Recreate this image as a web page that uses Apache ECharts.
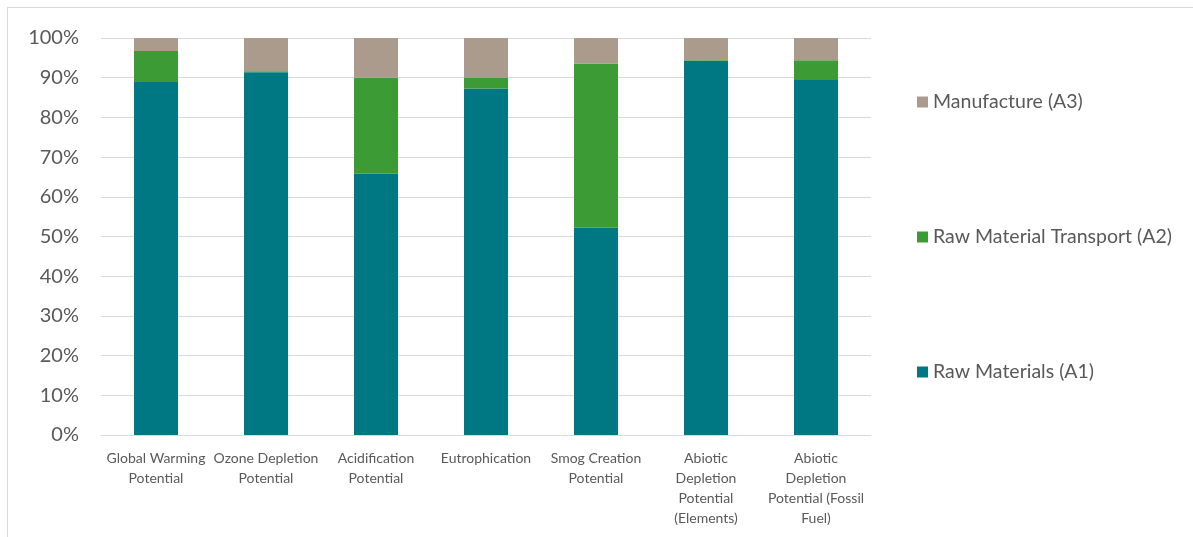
<!DOCTYPE html>
<html>
<head>
<meta charset="utf-8">
<script src="https://cdn.jsdelivr.net/npm/echarts@6/dist/echarts.min.js"></script>
<style>
  html, body { margin: 0; padding: 0; background: #fff; }
  #chart { width: 1193px; height: 537px; }
  .frame { position: absolute; left: 7px; top: 7px; width: 1200px; height: 540px; border: 1px solid #d9d9d9; box-sizing: border-box; pointer-events: none; }
</style>
</head>
<body>
<div id="chart"></div>
<div class="frame"></div>
<script>
// categories and their wrapped tick labels
const categories = ['Global Warming Potential', 'Ozone Depletion Potential', 'Acidification Potential',
  'Eutrophication', 'Smog Creation Potential', 'Abiotic Depletion Potential (Elements)',
  'Abiotic Depletion Potential (Fossil Fuel)'];
const tickLabels = ['Global Warming\nPotential', 'Ozone Depletion\nPotential', 'Acidification\nPotential',
  'Eutrophication', 'Smog Creation\nPotential', 'Abiotic\nDepletion\nPotential\n(Elements)',
  'Abiotic\nDepletion\nPotential (Fossil\nFuel)'];

// shares in percent
const rawMaterials = [88.9, 91.4, 65.8, 87.3, 52.2, 94.2, 89.4];
const transport = [7.8, 0.2, 24.2, 2.6, 41.4, 0.2, 5.0];
const manufacture = [3.3, 8.4, 10.0, 10.1, 6.4, 5.6, 5.6];

const chart = echarts.init(document.getElementById('chart'));

const font = 'Lato, "Open Sans", sans-serif';
const barOpts = { type: 'bar', stack: 'total', barWidth: 44 };

const option = {
  animation: false,
  textStyle: { fontFamily: font },
  grid: { left: 101, right: 322, top: 38, bottom: 102 },
  legend: {
    orient: 'vertical',
    left: 912,
    top: 86,
    icon: 'rect',
    itemWidth: 11,
    itemHeight: 11,
    itemGap: 113,
    itemStyle: { borderWidth: 0 },
    textStyle: { fontSize: 19.5, color: '#595959', lineHeight: 22, fontFamily: font },
    data: ['Manufacture (A3)', 'Raw Material Transport (A2)', 'Raw Materials (A1)']
  },
  xAxis: {
    type: 'category',
    data: categories,
    axisTick: { show: false },
    axisLine: { lineStyle: { color: '#d9d9d9' } },
    axisLabel: {
      interval: 0,
      margin: 13,
      fontSize: 14,
      lineHeight: 20,
      color: '#595959',
      formatter: (v, i) => tickLabels[i]
    }
  },
  yAxis: {
    type: 'value',
    min: 0,
    max: 100,
    interval: 10,
    axisLine: { show: false },
    axisTick: { show: false },
    splitLine: { lineStyle: { color: '#d9d9d9' } },
    axisLabel: { fontSize: 20, color: '#595959', margin: 22, formatter: '{value}%' }
  },
  series: [
    Object.assign({ name: 'Raw Materials (A1)', data: rawMaterials, itemStyle: { color: '#007884' } }, barOpts),
    Object.assign({ name: 'Raw Material Transport (A2)', data: transport, itemStyle: { color: '#3d9b35' } }, barOpts),
    Object.assign({ name: 'Manufacture (A3)', data: manufacture, itemStyle: { color: '#ab9b8d' } }, barOpts)
  ]
};

chart.setOption(option);
window.addEventListener('resize', function () {
  chart.resize();
});
</script>
</body>
</html>
